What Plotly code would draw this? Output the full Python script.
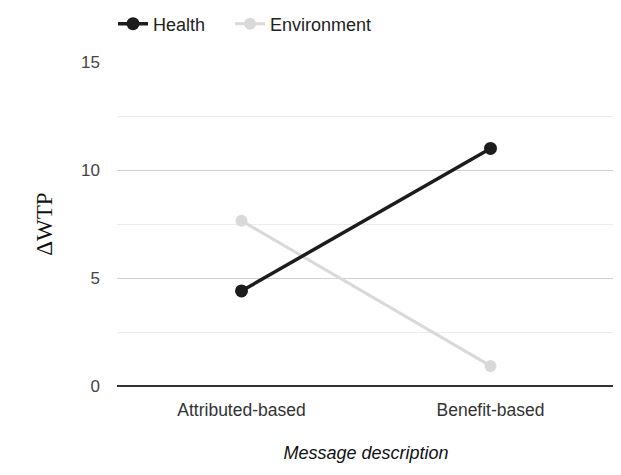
import plotly.graph_objects as go

categories = ["Attributed-based", "Benefit-based"]
health = [4.4, 11.0]
environment = [7.65, 0.93]
y_ticks = [0, 5, 10, 15]

fig = go.Figure()
fig.add_trace(go.Scatter(
    x=categories, y=environment, name="Environment", mode="lines+markers",
    line=dict(color="#d9d9d9", width=3), marker=dict(color="#d9d9d9", size=12),
))
fig.add_trace(go.Scatter(
    x=categories, y=health, name="Health\u00a0\u00a0\u00a0\u00a0", mode="lines+markers",
    line=dict(color="#1c1c1c", width=3.5), marker=dict(color="#1c1c1c", size=13),
))

font = "Liberation Sans, Arial, sans-serif"
W, H = 613, 467
fig.update_layout(
    width=W, height=H,
    margin=dict(l=109, r=6, t=54, b=89, autoexpand=False),
    paper_bgcolor="white", plot_bgcolor="white",
    font=dict(family=font, size=17, color="#444"),
    showlegend=True,
    legend=dict(orientation="h", x=-0.008, xanchor="left", xref="paper",
                y=1 - 16 / H, yanchor="middle", yref="container",
                traceorder="reversed", font=dict(size=18, color="#222"),
                itemwidth=30, bgcolor="rgba(0,0,0,0)"),
    xaxis=dict(
        type="category", range=[-0.5, 1.5], showgrid=False, showline=False,
        zeroline=False, ticks="", ticklabelstandoff=11, automargin=False,
        tickfont=dict(size=17.5, color="#333"),
        title=dict(text="Message description", standoff=27,
                   font=dict(size=18, color="#111", family=font, style="italic")),
    ),
    yaxis=dict(
        range=[0, 15], tickvals=y_ticks, showgrid=True, gridcolor="#cfcfcf", gridwidth=1,
        minor=dict(dtick=2.5, showgrid=True, gridcolor="#ececec", gridwidth=1),
        zeroline=True, zerolinecolor="#333", zerolinewidth=2,
        showline=False, ticks="", ticklabelstandoff=16, automargin=False,
        tickfont=dict(size=17, color="#444"),
        title=dict(text="ΔWTP", standoff=22,
                   font=dict(size=23, color="#111", family="Liberation Serif, Times New Roman, serif")),
    ),
)

fig.write_html("out.html")
